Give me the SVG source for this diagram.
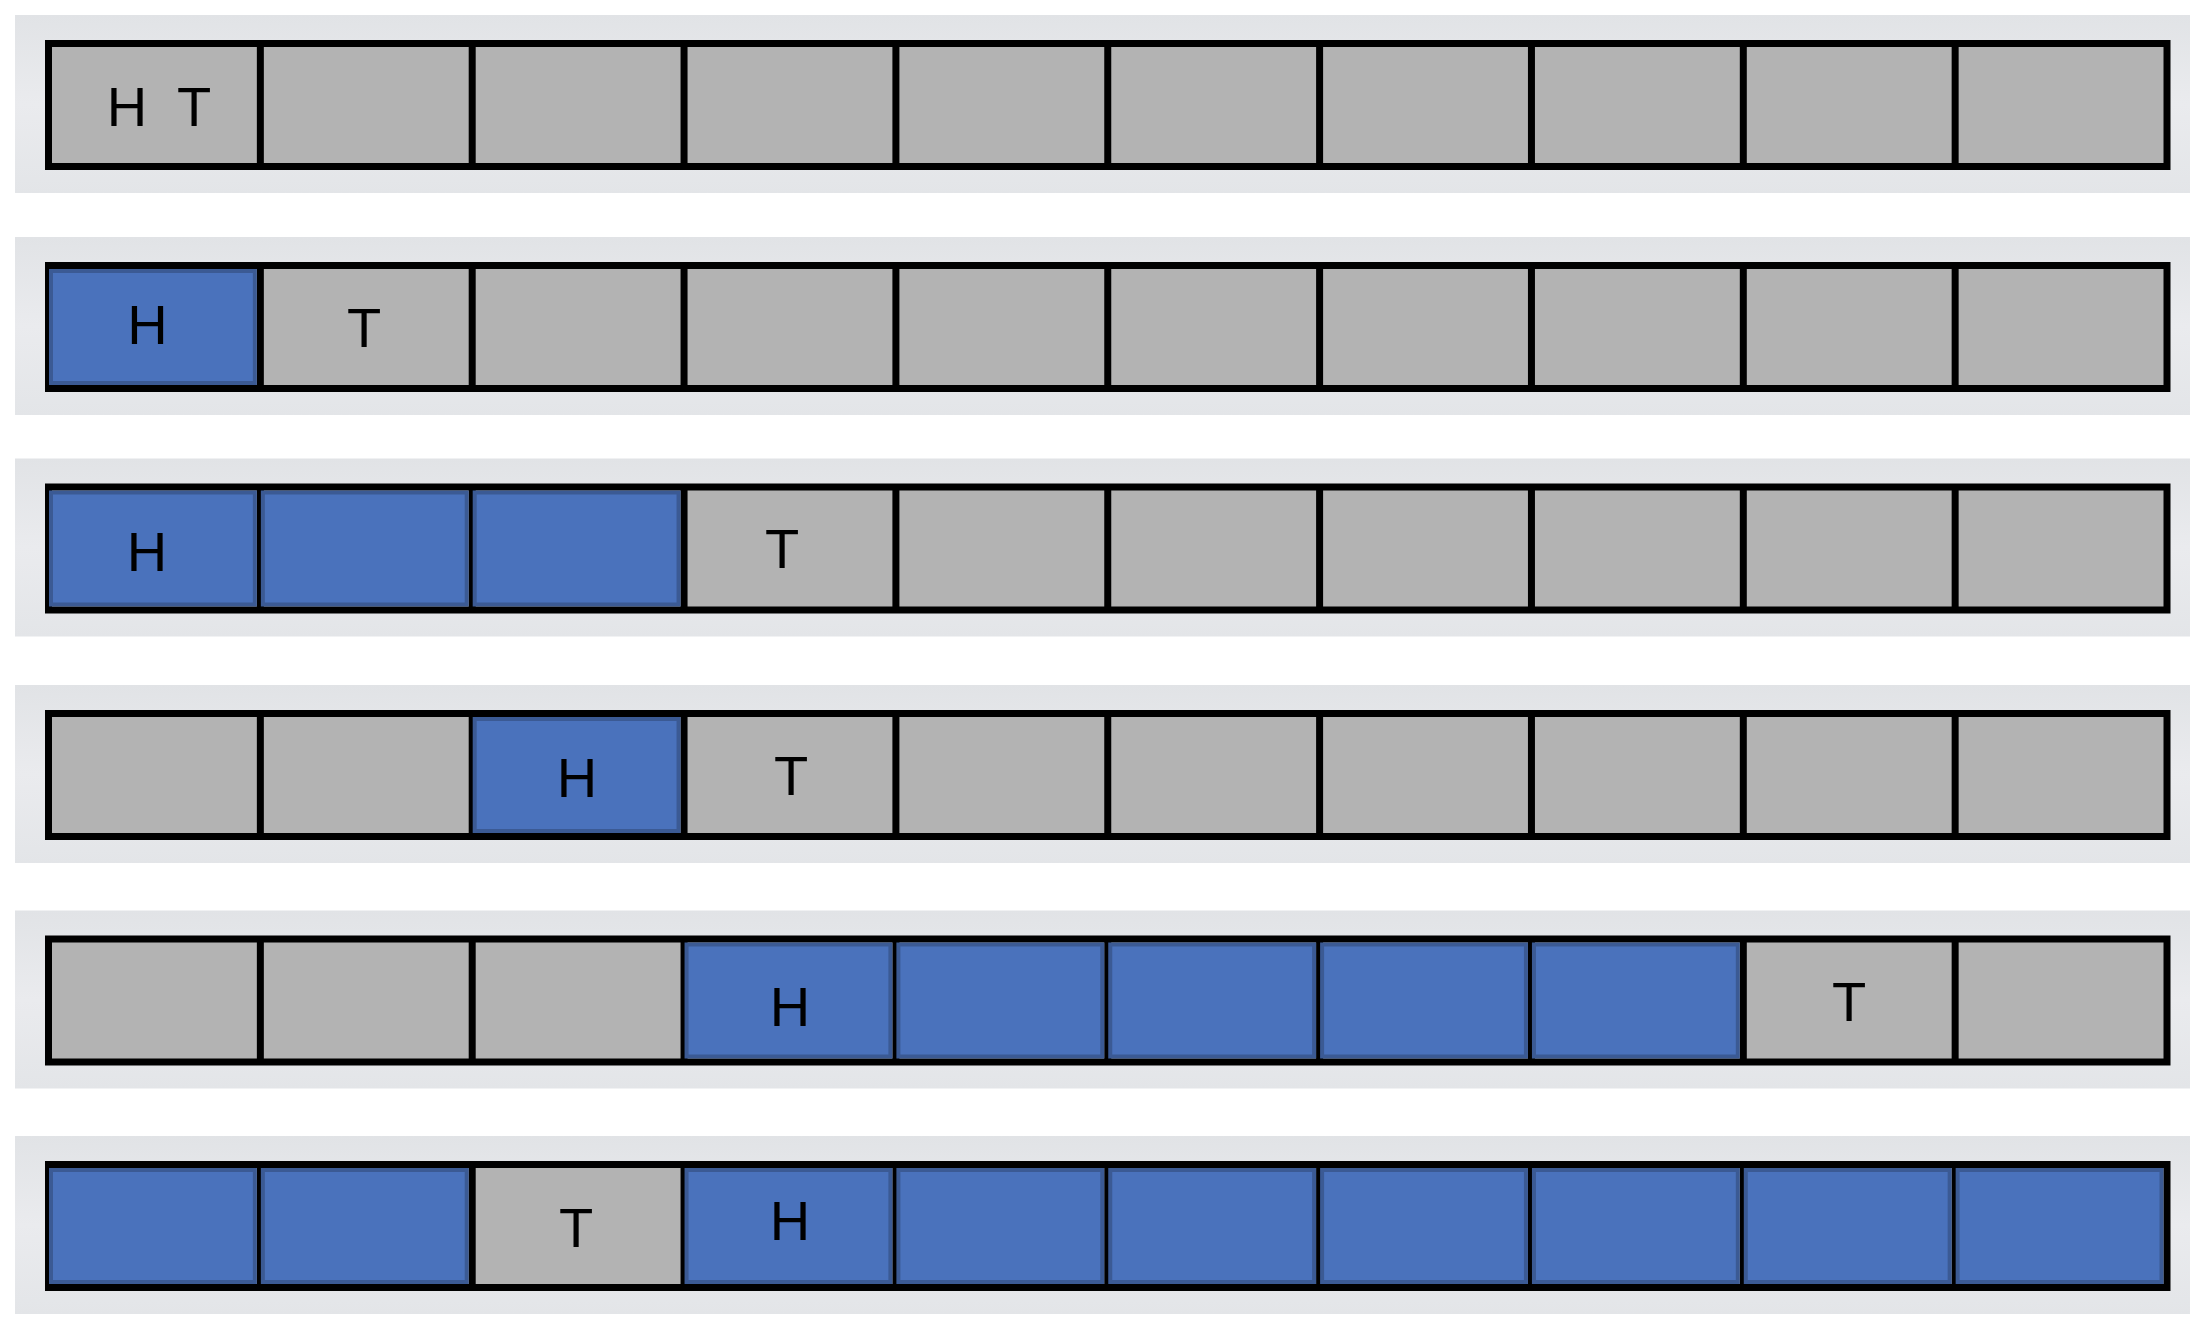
<svg xmlns="http://www.w3.org/2000/svg" width="2208" height="1334" viewBox="0 0 2208 1334">
<defs>
<linearGradient id="bandGrad" x1="0" y1="0" x2="0" y2="1">
<stop offset="0" stop-color="#E1E3E6"/>
<stop offset="0.5" stop-color="#EAEBEE"/>
<stop offset="1" stop-color="#E3E5E8"/>
</linearGradient>
<style>
.band{fill:url(#bandGrad);}
.strip{fill:#B3B3B3;stroke:#000;stroke-width:7;}
.div{stroke:#000;stroke-width:7;}
.blue{fill:#4A72BC;stroke:#3B5A94;stroke-width:4;}
.lbl{font-family:"Liberation Sans",Arial,Helvetica,sans-serif;font-size:56px;fill:#000;text-anchor:middle;}
</style>
<g id="dividers">
<line class="div" x1="260.35" y1="0" x2="260.35" y2="123"/>
<line class="div" x1="472.2" y1="0" x2="472.2" y2="123"/>
<line class="div" x1="684.05" y1="0" x2="684.05" y2="123"/>
<line class="div" x1="895.9" y1="0" x2="895.9" y2="123"/>
<line class="div" x1="1107.75" y1="0" x2="1107.75" y2="123"/>
<line class="div" x1="1319.6" y1="0" x2="1319.6" y2="123"/>
<line class="div" x1="1531.45" y1="0" x2="1531.45" y2="123"/>
<line class="div" x1="1743.3" y1="0" x2="1743.3" y2="123"/>
<line class="div" x1="1955.15" y1="0" x2="1955.15" y2="123"/>
</g>
</defs>
<rect width="2208" height="1334" fill="#FFFFFF"/>

<g id="row1">
<rect class="band" x="15" y="15" width="2175" height="178"/>
<g transform="translate(0,43.5)">
<rect class="strip" x="48.5" y="0" width="2118.5" height="123"/>
<use href="#dividers"/>
</g>
<g id="row1-cell1"><text class="lbl" x="127" y="126">H</text><text class="lbl" x="194" y="126">T</text></g>
</g>

<g id="row2">
<rect class="band" x="15" y="237" width="2175" height="178"/>
<g transform="translate(0,265.5)">
<rect class="strip" x="48.5" y="0" width="2118.5" height="123"/>
<use href="#dividers"/>
<rect class="blue" x="51" y="5.5" width="203.85" height="112"/>
</g>
<g id="row2-head"><text class="lbl" x="147.5" y="344">H</text></g>
<g id="row2-tail"><text class="lbl" x="364" y="347">T</text></g>
</g>

<g id="row3">
<rect class="band" x="15" y="458.5" width="2175" height="178"/>
<g transform="translate(0,487)">
<rect class="strip" x="48.5" y="0" width="2118.5" height="123"/>
<use href="#dividers"/>
<rect class="blue" x="51" y="5.5" width="203.85" height="112"/>
<rect class="blue" x="262.85" y="5.5" width="203.85" height="112"/>
<rect class="blue" x="474.7" y="5.5" width="203.85" height="112"/>
</g>
<g id="row3-head"><text class="lbl" x="147" y="571">H</text></g>
<g id="row3-tail"><text class="lbl" x="782" y="568">T</text></g>
</g>

<g id="row4">
<rect class="band" x="15" y="685" width="2175" height="178"/>
<g transform="translate(0,713.5)">
<rect class="strip" x="48.5" y="0" width="2118.5" height="123"/>
<use href="#dividers"/>
<rect class="blue" x="474.7" y="5.5" width="203.85" height="112"/>
</g>
<g id="row4-head"><text class="lbl" x="577" y="797">H</text></g>
<g id="row4-tail"><text class="lbl" x="791" y="795">T</text></g>
</g>

<g id="row5">
<rect class="band" x="15" y="910.5" width="2175" height="178"/>
<g transform="translate(0,939)">
<rect class="strip" x="48.5" y="0" width="2118.5" height="123"/>
<use href="#dividers"/>
<rect class="blue" x="686.55" y="5.5" width="203.85" height="112"/>
<rect class="blue" x="898.4" y="5.5" width="203.85" height="112"/>
<rect class="blue" x="1110.25" y="5.5" width="203.85" height="112"/>
<rect class="blue" x="1322.1" y="5.5" width="203.85" height="112"/>
<rect class="blue" x="1533.95" y="5.5" width="203.85" height="112"/>
</g>
<g id="row5-head"><text class="lbl" x="790" y="1026">H</text></g>
<g id="row5-tail"><text class="lbl" x="1849" y="1021">T</text></g>
</g>

<g id="row6">
<rect class="band" x="15" y="1136" width="2175" height="178"/>
<g transform="translate(0,1164.5)">
<rect class="strip" x="48.5" y="0" width="2118.5" height="123"/>
<use href="#dividers"/>
<rect class="blue" x="51" y="5.5" width="203.85" height="112"/>
<rect class="blue" x="262.85" y="5.5" width="203.85" height="112"/>
<rect class="blue" x="686.55" y="5.5" width="203.85" height="112"/>
<rect class="blue" x="898.4" y="5.5" width="203.85" height="112"/>
<rect class="blue" x="1110.25" y="5.5" width="203.85" height="112"/>
<rect class="blue" x="1322.1" y="5.5" width="203.85" height="112"/>
<rect class="blue" x="1533.95" y="5.5" width="203.85" height="112"/>
<rect class="blue" x="1745.8" y="5.5" width="203.85" height="112"/>
<rect class="blue" x="1957.65" y="5.5" width="203.85" height="112"/>
</g>
<g id="row6-tail"><text class="lbl" x="576" y="1247">T</text></g>
<g id="row6-head"><text class="lbl" x="790" y="1240">H</text></g>
</g>
</svg>
